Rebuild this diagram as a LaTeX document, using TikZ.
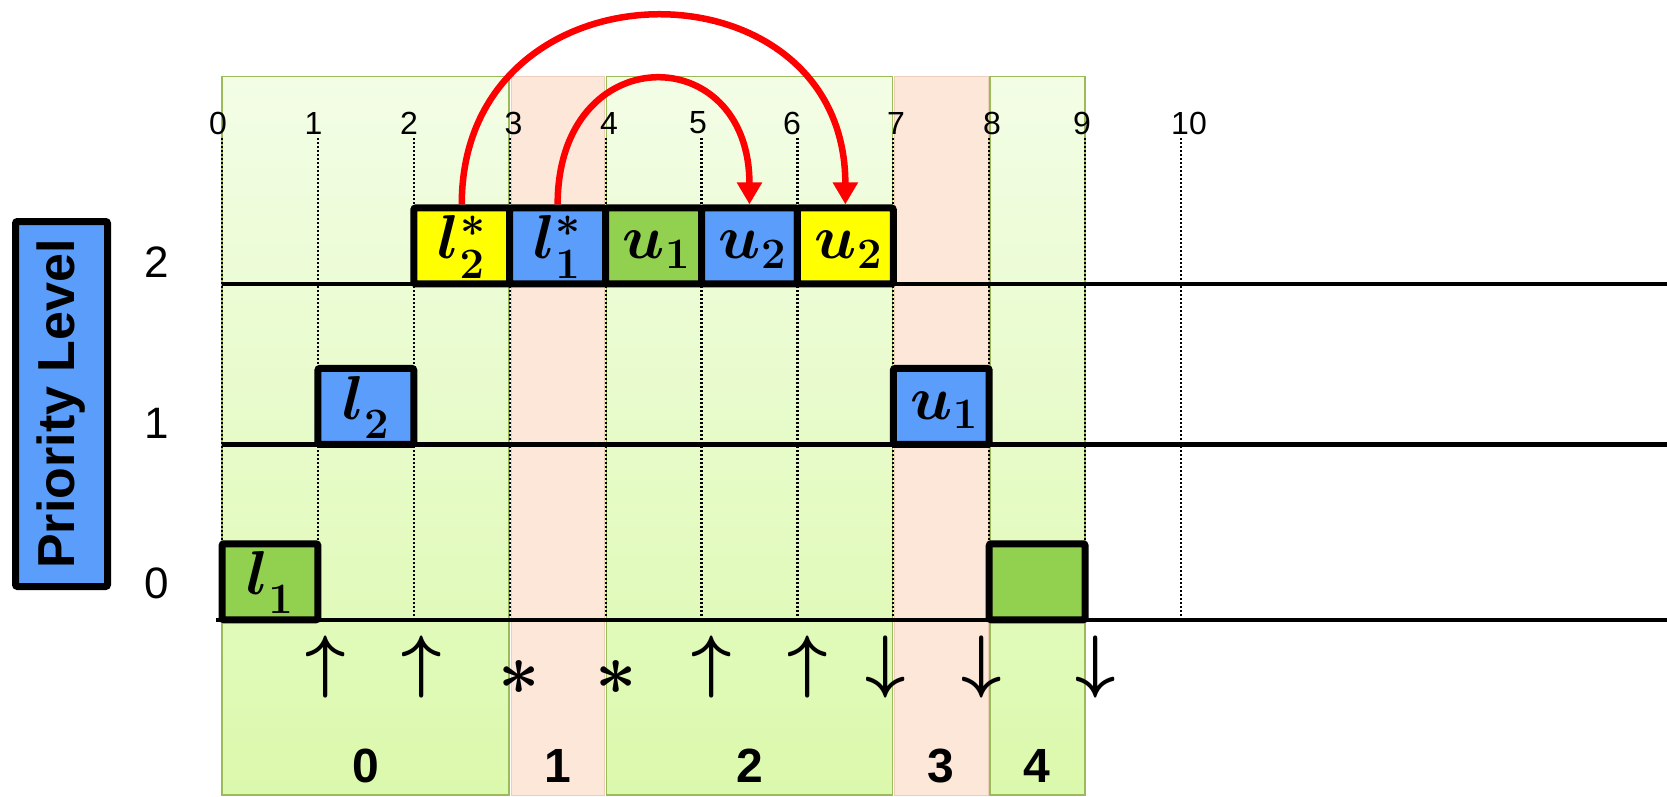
\RequirePackage{fix-cm}
\documentclass[tikz,border=0pt]{standalone}
\usepackage[no-math]{fontspec}
\usepackage{bm}
\newfontfamily\arialf{Liberation Sans}
\usetikzlibrary{arrows.meta,calc}
\definecolor{pblue}{RGB}{91,157,250}
\definecolor{pyel}{RGB}{255,255,0}
\definecolor{pgreen}{RGB}{146,208,80}
\definecolor{shtop}{RGB}{243,253,230}
\definecolor{shbot}{RGB}{219,249,172}
\definecolor{pinkreg}{RGB}{252,231,217}
\definecolor{pinkedge}{RGB}{236,206,188}
\definecolor{sborder}{RGB}{155,187,89}
\newcommand{\tlab}[3]{$\bm{#1}_{\mathbf{#2}}^{#3}$}
\newcommand{\ulab}[1]{\hspace*{6pt}$\bm{u}_{\mathbf{#1}}$}
\begin{document}
\begin{tikzpicture}[x=1pt,y=-1pt,
  greenreg/.style={top color=shtop, bottom color=shbot, draw=sborder, line width=1.6pt},
  pinkbox/.style={fill=pinkreg, draw=pinkedge, line width=1pt},
  dotline/.style={black, line width=2.2pt, dash pattern=on 2pt off 2pt},
  levelline/.style={black, line width=4.5pt},
  taskbox/.style={draw=black, line width=7pt, rounded corners=2pt,
    minimum width=95.9pt, minimum height=76pt, inner sep=0pt,
    text height=26pt, text depth=0pt, font=\boldmath\fontsize{62}{62}\selectfont},
  ticklab/.style={font=\arialf\fontsize{32}{32}\selectfont, inner sep=0pt},
  levlab/.style={font=\arialf\fontsize{44}{44}\selectfont, inner sep=0pt},
  reglab/.style={font=\arialf\bfseries\fontsize{48}{48}\selectfont, inner sep=0pt},
  symup/.style={font=\boldmath\fontsize{70}{70}\selectfont, inner sep=0pt},
  symst/.style={font=\boldmath\fontsize{72}{72}\selectfont, inner sep=0pt},
  redarc/.style={red, line width=6.5pt, -{Triangle[length=22pt,width=24pt]}}
]
\fill[white] (0,0) rectangle (1667,797);
\useasboundingbox (0,0) rectangle (1667,797);

% shaded phases
\shade[greenreg] (222,76.5) rectangle (509,795);
\filldraw[pinkbox] (511,76.5) rectangle (604.6,795);
\shade[greenreg] (606.6,76.5) rectangle (892.3,795);
\filldraw[pinkbox] (894.3,76.5) rectangle (988.2,795);
\shade[greenreg] (990.2,76.5) rectangle (1085.1,795);

% dotted time grid
\foreach \t in {0,...,10} {
  \draw[dotline] ({222+95.9*\t},138) -- ({222+95.9*\t},620);
}

% time labels
\node[ticklab] (tk0) at (218,123) {0};
\node[ticklab] (tk1) at (313.6,123) {1};
\node[ticklab] (tk2) at (409,123) {2};
\node[ticklab] (tk3) at (513.5,123) {3};
\node[ticklab] (tk4) at (609,123) {4};
\node[ticklab] (tk5) at (698,123) {5};
\node[ticklab] (tk6) at (792,123) {6};
\node[ticklab] (tk7) at (896,123) {7};
\node[ticklab] (tk8) at (992,123) {8};
\node[ticklab] (tk9) at (1082,123) {9};
\node[ticklab] (tk10) at (1189,123) {10};

% level lines
\draw[levelline] (222,283.9) -- (1667,283.9);
\draw[levelline] (222,444.4) -- (1667,444.4);
\draw[levelline] (216,619.8) -- (1667,619.8);

% level labels
\node[levlab] (lv2) at (157,262.6) {2};
\node[levlab] (lv1) at (157,423) {1};
\node[levlab] (lv0) at (157,583.6) {0};

% priority level box
\node[draw=black, line width=7pt, fill=pblue, rotate=90, rounded corners=2pt,
  minimum width=365pt, minimum height=92pt, inner sep=0pt,
  font=\arialf\bfseries\fontsize{52}{52}\selectfont] (prio) at (61.5,404) {Priority Level};

% level 2 tasks
\node[taskbox, fill=pyel]   (l2s) at (461.75,245.9) {\tlab{l}{2}{*}};
\node[taskbox, fill=pblue]  (l1s) at (557.65,245.9) {\tlab{l}{1}{*}};
\node[taskbox, fill=pgreen] (u1a) at (653.55,245.9) {\ulab{1}};
\node[taskbox, fill=pblue]  (u2b) at (749.45,245.9) {\ulab{2}};
\node[taskbox, fill=pyel]   (u2y) at (845.35,245.9) {\ulab{2}};

% level 1 tasks
\node[taskbox, fill=pblue] (l2) at (365.85,406.4) {\tlab{l}{2}{}};
\node[taskbox, fill=pblue] (u1b) at (941.25,406.4) {\ulab{1}};

% level 0 tasks
\node[taskbox, fill=pgreen] (l1) at (269.95,581.8) {\tlab{l}{1}{}};
\node[taskbox, fill=pgreen] (g0) at (1037.15,581.8) {};

% red arcs
\draw[redarc] (l2s.north) .. controls ($(l2s.north)+(0,-250)$) and ($(u2y.north)+(0,-250)$) .. (u2y.north);
\draw[redarc] (l1s.north) .. controls ($(l1s.north)+(0,-166)$) and ($(u2b.north)+(0,-166)$) .. (u2b.north);

% event symbols
\node[symup] (e1) at (325.7,667) {$\uparrow$};
\node[symup] (e2) at (421.6,667) {$\uparrow$};
\node[symst] (e3) at (518.7,677) {$\ast$};
\node[symst] (e4) at (615.8,677) {$\ast$};
\node[symup] (e5) at (712,667) {$\uparrow$};
\node[symup] (e6) at (808,667) {$\uparrow$};
\node[symup] (e7) at (885.6,667) {$\downarrow$};
\node[symup] (e8) at (981.6,667) {$\downarrow$};
\node[symup] (e9) at (1095.5,667) {$\downarrow$};

% phase labels
\node[reglab] (p0) at (365.9,766) {0};
\node[reglab] (p1) at (557.65,766) {1};
\node[reglab] (p2) at (749.45,766) {2};
\node[reglab] (p3) at (941.25,766) {3};
\node[reglab] (p4) at (1037.15,766) {4};
\end{tikzpicture}
\end{document}
